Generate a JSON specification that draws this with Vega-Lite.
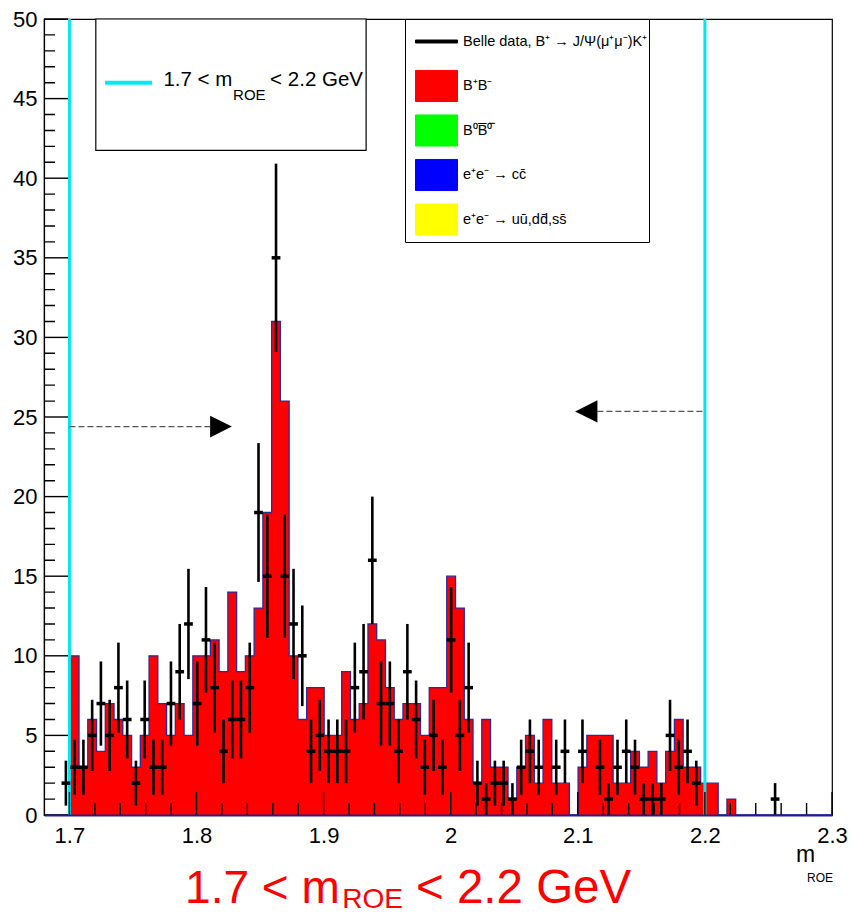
{
  "$schema": "https://vega.github.io/schema/vega-lite/v6.json",
  "width": 788,
  "height": 796,
  "autosize": {"type": "none"},
  "padding": {"left": 44, "top": 19, "right": 22, "bottom": 98},
  "background": "#ffffff",
  "config": {
    "view": {"stroke": "#000000", "strokeWidth": 1.2},
    "axis": {"grid": false, "domain": false, "title": null, "labelFont": "Liberation Sans, Arial, sans-serif", "labelFontSize": 22, "labelColor": "#000000", "tickColor": "#000000", "tickWidth": 1, "labelFlush": false, "labelOverlap": false}
  },
  "datasets": {
    "hist": [
      {"x": 1.68, "n": 0}, {"x": 1.686889, "n": 0}, {"x": 1.693778, "n": 0}, {"x": 1.700667, "n": 10},
      {"x": 1.707556, "n": 3}, {"x": 1.714444, "n": 6}, {"x": 1.721333, "n": 4}, {"x": 1.728222, "n": 7},
      {"x": 1.735111, "n": 6}, {"x": 1.742, "n": 5}, {"x": 1.748889, "n": 3}, {"x": 1.755778, "n": 5},
      {"x": 1.762667, "n": 10}, {"x": 1.769556, "n": 7}, {"x": 1.776444, "n": 5}, {"x": 1.783333, "n": 7},
      {"x": 1.790222, "n": 5}, {"x": 1.797111, "n": 10}, {"x": 1.804, "n": 10}, {"x": 1.810889, "n": 11},
      {"x": 1.817778, "n": 9}, {"x": 1.824667, "n": 14}, {"x": 1.831556, "n": 9}, {"x": 1.838444, "n": 10},
      {"x": 1.845333, "n": 13}, {"x": 1.852222, "n": 19}, {"x": 1.859111, "n": 31}, {"x": 1.866, "n": 26},
      {"x": 1.872889, "n": 10}, {"x": 1.879778, "n": 6}, {"x": 1.886667, "n": 8}, {"x": 1.893556, "n": 8},
      {"x": 1.900444, "n": 5}, {"x": 1.907333, "n": 5}, {"x": 1.914222, "n": 9}, {"x": 1.921111, "n": 6},
      {"x": 1.928, "n": 7}, {"x": 1.934889, "n": 12}, {"x": 1.941778, "n": 11}, {"x": 1.948667, "n": 8},
      {"x": 1.955556, "n": 6}, {"x": 1.962444, "n": 7}, {"x": 1.969333, "n": 7}, {"x": 1.976222, "n": 5},
      {"x": 1.983111, "n": 8}, {"x": 1.99, "n": 8}, {"x": 1.996889, "n": 15}, {"x": 2.003778, "n": 13},
      {"x": 2.010667, "n": 6}, {"x": 2.017556, "n": 2}, {"x": 2.024444, "n": 6}, {"x": 2.031333, "n": 3},
      {"x": 2.038222, "n": 3}, {"x": 2.045111, "n": 1}, {"x": 2.052, "n": 3}, {"x": 2.058889, "n": 5},
      {"x": 2.065778, "n": 2}, {"x": 2.072667, "n": 6}, {"x": 2.079556, "n": 2}, {"x": 2.086444, "n": 2},
      {"x": 2.093333, "n": 0}, {"x": 2.100222, "n": 3}, {"x": 2.107111, "n": 5}, {"x": 2.114, "n": 5},
      {"x": 2.120889, "n": 5}, {"x": 2.127778, "n": 2}, {"x": 2.134667, "n": 2}, {"x": 2.141556, "n": 4},
      {"x": 2.148444, "n": 3}, {"x": 2.155333, "n": 4}, {"x": 2.162222, "n": 2}, {"x": 2.169111, "n": 4},
      {"x": 2.176, "n": 6}, {"x": 2.182889, "n": 3}, {"x": 2.189778, "n": 3}, {"x": 2.196667, "n": 2},
      {"x": 2.203556, "n": 2}, {"x": 2.210444, "n": 0}, {"x": 2.217333, "n": 1}, {"x": 2.224222, "n": 0},
      {"x": 2.231111, "n": 0}, {"x": 2.238, "n": 0}, {"x": 2.244889, "n": 0}, {"x": 2.251778, "n": 0},
      {"x": 2.258667, "n": 0}, {"x": 2.265556, "n": 0}, {"x": 2.272444, "n": 0}, {"x": 2.279333, "n": 0},
      {"x": 2.286222, "n": 0}, {"x": 2.293111, "n": 0}, {"x": 2.3, "n": 0}
    ],
    "pts": [
      {"x0": 1.693778, "x1": 1.700667, "xc": 1.697222, "n": 2, "lo": 0.586, "hi": 3.414},
      {"x0": 1.700667, "x1": 1.707556, "xc": 1.704111, "n": 3, "lo": 1.268, "hi": 4.732},
      {"x0": 1.707556, "x1": 1.714444, "xc": 1.711, "n": 3, "lo": 1.268, "hi": 4.732},
      {"x0": 1.714444, "x1": 1.721333, "xc": 1.717889, "n": 5, "lo": 2.764, "hi": 7.236},
      {"x0": 1.721333, "x1": 1.728222, "xc": 1.724778, "n": 7, "lo": 4.354, "hi": 9.646},
      {"x0": 1.728222, "x1": 1.735111, "xc": 1.731667, "n": 5, "lo": 2.764, "hi": 7.236},
      {"x0": 1.735111, "x1": 1.742, "xc": 1.738556, "n": 8, "lo": 5.172, "hi": 10.828},
      {"x0": 1.742, "x1": 1.748889, "xc": 1.745444, "n": 6, "lo": 3.551, "hi": 8.449},
      {"x0": 1.748889, "x1": 1.755778, "xc": 1.752333, "n": 2, "lo": 0.586, "hi": 3.414},
      {"x0": 1.755778, "x1": 1.762667, "xc": 1.759222, "n": 6, "lo": 3.551, "hi": 8.449},
      {"x0": 1.762667, "x1": 1.769556, "xc": 1.766111, "n": 3, "lo": 1.268, "hi": 4.732},
      {"x0": 1.769556, "x1": 1.776444, "xc": 1.773, "n": 3, "lo": 1.268, "hi": 4.732},
      {"x0": 1.776444, "x1": 1.783333, "xc": 1.779889, "n": 7, "lo": 4.354, "hi": 9.646},
      {"x0": 1.783333, "x1": 1.790222, "xc": 1.786778, "n": 9, "lo": 6, "hi": 12},
      {"x0": 1.790222, "x1": 1.797111, "xc": 1.793667, "n": 12, "lo": 8.536, "hi": 15.464},
      {"x0": 1.797111, "x1": 1.804, "xc": 1.800556, "n": 7, "lo": 4.354, "hi": 9.646},
      {"x0": 1.804, "x1": 1.810889, "xc": 1.807444, "n": 11, "lo": 7.683, "hi": 14.317},
      {"x0": 1.810889, "x1": 1.817778, "xc": 1.814333, "n": 8, "lo": 5.172, "hi": 10.828},
      {"x0": 1.817778, "x1": 1.824667, "xc": 1.821222, "n": 4, "lo": 2, "hi": 6},
      {"x0": 1.824667, "x1": 1.831556, "xc": 1.828111, "n": 6, "lo": 3.551, "hi": 8.449},
      {"x0": 1.831556, "x1": 1.838444, "xc": 1.835, "n": 6, "lo": 3.551, "hi": 8.449},
      {"x0": 1.838444, "x1": 1.845333, "xc": 1.841889, "n": 8, "lo": 5.172, "hi": 10.828},
      {"x0": 1.845333, "x1": 1.852222, "xc": 1.848778, "n": 19, "lo": 14.641, "hi": 23.359},
      {"x0": 1.852222, "x1": 1.859111, "xc": 1.855667, "n": 15, "lo": 11.127, "hi": 18.873},
      {"x0": 1.859111, "x1": 1.866, "xc": 1.862556, "n": 35, "lo": 29.084, "hi": 40.916},
      {"x0": 1.866, "x1": 1.872889, "xc": 1.869444, "n": 15, "lo": 11.127, "hi": 18.873},
      {"x0": 1.872889, "x1": 1.879778, "xc": 1.876333, "n": 12, "lo": 8.536, "hi": 15.464},
      {"x0": 1.879778, "x1": 1.886667, "xc": 1.883222, "n": 10, "lo": 6.838, "hi": 13.162},
      {"x0": 1.886667, "x1": 1.893556, "xc": 1.890111, "n": 4, "lo": 2, "hi": 6},
      {"x0": 1.893556, "x1": 1.900444, "xc": 1.897, "n": 5, "lo": 2.764, "hi": 7.236},
      {"x0": 1.900444, "x1": 1.907333, "xc": 1.903889, "n": 4, "lo": 2, "hi": 6},
      {"x0": 1.907333, "x1": 1.914222, "xc": 1.910778, "n": 4, "lo": 2, "hi": 6},
      {"x0": 1.914222, "x1": 1.921111, "xc": 1.917667, "n": 4, "lo": 2, "hi": 6},
      {"x0": 1.921111, "x1": 1.928, "xc": 1.924556, "n": 8, "lo": 5.172, "hi": 10.828},
      {"x0": 1.928, "x1": 1.934889, "xc": 1.931444, "n": 9, "lo": 6, "hi": 12},
      {"x0": 1.934889, "x1": 1.941778, "xc": 1.938333, "n": 16, "lo": 12, "hi": 20},
      {"x0": 1.941778, "x1": 1.948667, "xc": 1.945222, "n": 7, "lo": 4.354, "hi": 9.646},
      {"x0": 1.948667, "x1": 1.955556, "xc": 1.952111, "n": 7, "lo": 4.354, "hi": 9.646},
      {"x0": 1.955556, "x1": 1.962444, "xc": 1.959, "n": 4, "lo": 2, "hi": 6},
      {"x0": 1.962444, "x1": 1.969333, "xc": 1.965889, "n": 9, "lo": 6, "hi": 12},
      {"x0": 1.969333, "x1": 1.976222, "xc": 1.972778, "n": 6, "lo": 3.551, "hi": 8.449},
      {"x0": 1.976222, "x1": 1.983111, "xc": 1.979667, "n": 3, "lo": 1.268, "hi": 4.732},
      {"x0": 1.983111, "x1": 1.99, "xc": 1.986556, "n": 5, "lo": 2.764, "hi": 7.236},
      {"x0": 1.99, "x1": 1.996889, "xc": 1.993444, "n": 3, "lo": 1.268, "hi": 4.732},
      {"x0": 1.996889, "x1": 2.003778, "xc": 2.000333, "n": 11, "lo": 7.683, "hi": 14.317},
      {"x0": 2.003778, "x1": 2.010667, "xc": 2.007222, "n": 5, "lo": 2.764, "hi": 7.236},
      {"x0": 2.010667, "x1": 2.017556, "xc": 2.014111, "n": 8, "lo": 5.172, "hi": 10.828},
      {"x0": 2.017556, "x1": 2.024444, "xc": 2.021, "n": 2, "lo": 0.586, "hi": 3.414},
      {"x0": 2.024444, "x1": 2.031333, "xc": 2.027889, "n": 1, "lo": 0, "hi": 2},
      {"x0": 2.031333, "x1": 2.038222, "xc": 2.034778, "n": 2, "lo": 0.586, "hi": 3.414},
      {"x0": 2.038222, "x1": 2.045111, "xc": 2.041667, "n": 2, "lo": 0.586, "hi": 3.414},
      {"x0": 2.045111, "x1": 2.052, "xc": 2.048556, "n": 1, "lo": 0, "hi": 2},
      {"x0": 2.052, "x1": 2.058889, "xc": 2.055444, "n": 3, "lo": 1.268, "hi": 4.732},
      {"x0": 2.058889, "x1": 2.065778, "xc": 2.062333, "n": 4, "lo": 2, "hi": 6},
      {"x0": 2.065778, "x1": 2.072667, "xc": 2.069222, "n": 3, "lo": 1.268, "hi": 4.732},
      {"x0": 2.079556, "x1": 2.086444, "xc": 2.083, "n": 3, "lo": 1.268, "hi": 4.732},
      {"x0": 2.086444, "x1": 2.093333, "xc": 2.089889, "n": 4, "lo": 2, "hi": 6},
      {"x0": 2.100222, "x1": 2.107111, "xc": 2.103667, "n": 4, "lo": 2, "hi": 6},
      {"x0": 2.114, "x1": 2.120889, "xc": 2.117444, "n": 3, "lo": 1.268, "hi": 4.732},
      {"x0": 2.120889, "x1": 2.127778, "xc": 2.124333, "n": 1, "lo": 0, "hi": 2},
      {"x0": 2.127778, "x1": 2.134667, "xc": 2.131222, "n": 3, "lo": 1.268, "hi": 4.732},
      {"x0": 2.134667, "x1": 2.141556, "xc": 2.138111, "n": 4, "lo": 2, "hi": 6},
      {"x0": 2.141556, "x1": 2.148444, "xc": 2.145, "n": 3, "lo": 1.268, "hi": 4.732},
      {"x0": 2.148444, "x1": 2.155333, "xc": 2.151889, "n": 1, "lo": 0, "hi": 2},
      {"x0": 2.155333, "x1": 2.162222, "xc": 2.158778, "n": 1, "lo": 0, "hi": 2},
      {"x0": 2.162222, "x1": 2.169111, "xc": 2.165667, "n": 1, "lo": 0, "hi": 2},
      {"x0": 2.169111, "x1": 2.176, "xc": 2.172556, "n": 5, "lo": 2.764, "hi": 7.236},
      {"x0": 2.176, "x1": 2.182889, "xc": 2.179444, "n": 3, "lo": 1.268, "hi": 4.732},
      {"x0": 2.182889, "x1": 2.189778, "xc": 2.186333, "n": 4, "lo": 2, "hi": 6},
      {"x0": 2.189778, "x1": 2.196667, "xc": 2.193222, "n": 2, "lo": 0.586, "hi": 3.414},
      {"x0": 2.251778, "x1": 2.258667, "xc": 2.255222, "n": 1, "lo": 0, "hi": 2}
    ],
    "cuts": [{"m": 1.7}, {"m": 2.2}],
    "one": [{}],
    "ymaj": [{"v": 0}, {"v": 5}, {"v": 10}, {"v": 15}, {"v": 20}, {"v": 25}, {"v": 30}, {"v": 35}, {"v": 40}, {"v": 45}, {"v": 50}],
    "ymin": [{"v": 1}, {"v": 2}, {"v": 3}, {"v": 4}, {"v": 6}, {"v": 7}, {"v": 8}, {"v": 9}, {"v": 11}, {"v": 12}, {"v": 13}, {"v": 14}, {"v": 16}, {"v": 17}, {"v": 18}, {"v": 19}, {"v": 21}, {"v": 22}, {"v": 23}, {"v": 24}, {"v": 26}, {"v": 27}, {"v": 28}, {"v": 29}, {"v": 31}, {"v": 32}, {"v": 33}, {"v": 34}, {"v": 36}, {"v": 37}, {"v": 38}, {"v": 39}, {"v": 41}, {"v": 42}, {"v": 43}, {"v": 44}, {"v": 46}, {"v": 47}, {"v": 48}, {"v": 49}],
    "xmaj": [{"v": 1.7}, {"v": 1.8}, {"v": 1.9}, {"v": 2.0}, {"v": 2.1}, {"v": 2.2}, {"v": 2.3}],
    "xmin": [{"v": 1.72}, {"v": 1.74}, {"v": 1.76}, {"v": 1.78}, {"v": 1.82}, {"v": 1.84}, {"v": 1.86}, {"v": 1.88}, {"v": 1.92}, {"v": 1.94}, {"v": 1.96}, {"v": 1.98}, {"v": 2.02}, {"v": 2.04}, {"v": 2.06}, {"v": 2.08}, {"v": 2.12}, {"v": 2.14}, {"v": 2.16}, {"v": 2.18}, {"v": 2.22}, {"v": 2.24}, {"v": 2.26}, {"v": 2.28}]
  },
  "resolve": {"axis": {"x": "independent", "y": "independent"}},
  "layer": [
    {
      "data": {"name": "hist"},
      "mark": {"type": "area", "interpolate": "step-after"},
      "encoding": {
        "x": {"field": "x", "type": "quantitative", "scale": {"domain": [1.68, 2.3], "nice": false, "zero": false},
              "axis": {"orient": "bottom", "zindex": 2, "values": [1.7, 1.8, 1.9, 2, 2.1, 2.2, 2.3], "format": "~g", "ticks": false, "labelPadding": 10, "domain": true, "domainColor": "#20208a", "domainWidth": 2}},
        "y": {"field": "n", "type": "quantitative", "scale": {"domain": [0, 50], "nice": false, "zero": true},
              "axis": {"orient": "left", "zindex": 2, "values": [0, 5, 10, 15, 20, 25, 30, 35, 40, 45, 50], "format": "d", "ticks": false, "labelPadding": 7, "domain": true, "domainColor": "#000000", "domainWidth": 1.2}},
        "color": {"datum": "B⁺B⁻", "type": "nominal",
          "scale": {"domain": ["Belle data, B⁺ → J/Ψ(μ⁺μ⁻)K⁺", "B⁺B⁻", "B⁰B̅⁰̅", "e⁺e⁻ → cc̄", "e⁺e⁻ → uū,dd̄,ss̄"], "range": ["#000000", "#ff0000", "#00ff00", "#0000ff", "#ffff00"]},
          "legend": {"orient": "none", "legendX": 361, "legendY": 0, "title": null, "padding": 1, "strokeColor": "#000000", "fillColor": "#ffffff",
            "symbolSize": 1764, "symbolOffset": 9, "labelOffset": 5, "rowPadding": 1.5,
            "labelFont": "Liberation Sans, Arial, sans-serif", "labelFontSize": 14.5, "labelColor": "#000000", "labelLimit": 400,
            "encode": {"symbols": {"update": {
              "shape": {"signal": "datum.index === 0 ? 'M-1,-0.9M1,0.9M-1,-0.07H1V0.07H-1Z' : 'M-1,-0.9M1,0.9M-1,-0.74H1V0.74H-1Z'"},
              "fill": {"signal": "scale('color', datum.value)"},
              "stroke": {"signal": "datum.index === 0 ? 'transparent' : '#3434b0'"},
              "strokeWidth": {"value": 1},
              "opacity": {"value": 1}
            }}}
          }}
      }
    },
    {
      "data": {"name": "hist"},
      "mark": {"type": "line", "interpolate": "step-after", "color": "#2a2a9c", "strokeWidth": 1.3},
      "encoding": {
        "x": {"field": "x", "type": "quantitative", "axis": null},
        "y": {"field": "n", "type": "quantitative", "axis": null}
      }
    },
    {
      "data": {"name": "cuts"},
      "mark": {"type": "rule", "color": "#00e8f0", "strokeWidth": 3},
      "encoding": {"x": {"field": "m", "type": "quantitative", "axis": null}}
    },
    {
      "data": {"name": "pts"},
      "mark": {"type": "rule", "strokeWidth": 2.6},
      "encoding": {
        "x": {"field": "xc", "type": "quantitative", "axis": null},
        "y": {"field": "lo", "type": "quantitative", "axis": null},
        "y2": {"field": "hi"},
        "color": {"datum": "Belle data, B⁺ → J/Ψ(μ⁺μ⁻)K⁺", "type": "nominal"}
      }
    },
    {
      "data": {"name": "pts"},
      "mark": {"type": "rule", "strokeWidth": 3.5},
      "encoding": {
        "x": {"field": "x0", "type": "quantitative", "axis": null},
        "x2": {"field": "x1"},
        "y": {"field": "n", "type": "quantitative", "axis": null},
        "color": {"datum": "Belle data, B⁺ → J/Ψ(μ⁺μ⁻)K⁺", "type": "nominal"}
      }
    },
    {
      "data": {"name": "one"},
      "mark": {"type": "rule", "color": "#555555", "strokeWidth": 1.3, "strokeDash": [6, 3]},
      "encoding": {"x": {"datum": 1.7, "type": "quantitative", "axis": null}, "x2": {"datum": 1.8107}, "y": {"datum": 24.4, "type": "quantitative", "axis": null}}
    },
    {
      "data": {"name": "one"},
      "mark": {"type": "point", "shape": "M0,0L-2,-1L-2,1Z", "size": 471, "filled": true, "color": "#000000", "opacity": 1, "strokeWidth": 0},
      "encoding": {"x": {"datum": 1.8278, "type": "quantitative", "axis": null}, "y": {"datum": 24.4, "type": "quantitative", "axis": null}}
    },
    {
      "data": {"name": "one"},
      "mark": {"type": "rule", "color": "#555555", "strokeWidth": 1.3, "strokeDash": [6, 3]},
      "encoding": {"x": {"datum": 2.1154, "type": "quantitative", "axis": null}, "x2": {"datum": 2.2}, "y": {"datum": 25.35, "type": "quantitative", "axis": null}}
    },
    {
      "data": {"name": "one"},
      "mark": {"type": "point", "shape": "M0,0L2,-1L2,1Z", "size": 497, "filled": true, "color": "#000000", "opacity": 1, "strokeWidth": 0},
      "encoding": {"x": {"datum": 2.0979, "type": "quantitative", "axis": null}, "y": {"datum": 25.35, "type": "quantitative", "axis": null}}
    },
    {
      "data": {"name": "one"},
      "mark": {"type": "rect", "fill": "#ffffff", "stroke": "#000000", "strokeWidth": 1.2},
      "encoding": {"x": {"datum": 1.72077, "type": "quantitative", "axis": null}, "x2": {"datum": 1.93344}, "y": {"datum": 50, "type": "quantitative", "axis": null}, "y2": {"datum": 41.75}}
    },
    {
      "data": {"name": "one"},
      "mark": {"type": "rule", "color": "#00e8f0", "strokeWidth": 4},
      "encoding": {"x": {"datum": 1.72809, "type": "quantitative", "axis": null}, "x2": {"datum": 1.76507}, "y": {"datum": 46.0, "type": "quantitative", "axis": null}}
    },
    {
      "data": {"name": "one"},
      "mark": {"type": "text", "align": "left", "baseline": "alphabetic", "fontSize": 20.5, "font": "Liberation Sans, Arial, sans-serif", "color": "#000000", "text": "1.7 < m"},
      "encoding": {"x": {"datum": 1.77396, "type": "quantitative", "axis": null}, "y": {"datum": 45.82, "type": "quantitative", "axis": null}}
    },
    {
      "data": {"name": "one"},
      "mark": {"type": "text", "align": "left", "baseline": "alphabetic", "fontSize": 15, "font": "Liberation Sans, Arial, sans-serif", "color": "#000000", "text": "ROE"},
      "encoding": {"x": {"datum": 1.8288, "type": "quantitative", "axis": null}, "y": {"datum": 44.94, "type": "quantitative", "axis": null}}
    },
    {
      "data": {"name": "one"},
      "mark": {"type": "text", "align": "left", "baseline": "alphabetic", "fontSize": 20.5, "font": "Liberation Sans, Arial, sans-serif", "color": "#000000", "text": "< 2.2 GeV"},
      "encoding": {"x": {"datum": 1.85791, "type": "quantitative", "axis": null}, "y": {"datum": 45.82, "type": "quantitative", "axis": null}}
    },
    {
      "data": {"name": "one"},
      "mark": {"type": "text", "align": "left", "baseline": "alphabetic", "fontSize": 46, "font": "Liberation Sans, Arial, sans-serif", "color": "#ff0000", "text": "1.7 < m"},
      "encoding": {"x": {"datum": 1.79103, "type": "quantitative", "axis": null}, "y": {"datum": -5.53, "type": "quantitative", "axis": null}}
    },
    {
      "data": {"name": "one"},
      "mark": {"type": "text", "align": "left", "baseline": "alphabetic", "fontSize": 28, "font": "Liberation Sans, Arial, sans-serif", "color": "#ff0000", "text": "ROE"},
      "encoding": {"x": {"datum": 1.9146, "type": "quantitative", "axis": null}, "y": {"datum": -5.84, "type": "quantitative", "axis": null}}
    },
    {
      "data": {"name": "one"},
      "mark": {"type": "text", "align": "left", "baseline": "alphabetic", "fontSize": 47.5, "font": "Liberation Sans, Arial, sans-serif", "color": "#ff0000", "text": "< 2.2 GeV"},
      "encoding": {"x": {"datum": 1.9727, "type": "quantitative", "axis": null}, "y": {"datum": -5.53, "type": "quantitative", "axis": null}}
    },
    {
      "data": {"name": "one"},
      "mark": {"type": "text", "align": "left", "baseline": "alphabetic", "fontSize": 23, "font": "Liberation Sans, Arial, sans-serif", "color": "#000000", "text": "m"},
      "encoding": {"x": {"datum": 2.27175, "type": "quantitative", "axis": null}, "y": {"datum": -2.954, "type": "quantitative", "axis": null}}
    },
    {
      "data": {"name": "one"},
      "mark": {"type": "text", "align": "left", "baseline": "alphabetic", "fontSize": 12, "font": "Liberation Sans, Arial, sans-serif", "color": "#000000", "text": "ROE"},
      "encoding": {"x": {"datum": 2.28042, "type": "quantitative", "axis": null}, "y": {"datum": -4.21, "type": "quantitative", "axis": null}}
    },
    {
      "data": {"name": "ymaj"},
      "mark": {"type": "tick", "orient": "horizontal", "size": 24, "thickness": 1.4, "color": "#000000", "opacity": 1},
      "encoding": {"x": {"datum": 1.68944, "type": "quantitative", "axis": null}, "y": {"field": "v", "type": "quantitative", "axis": null}}
    },
    {
      "data": {"name": "ymin"},
      "mark": {"type": "tick", "orient": "horizontal", "size": 11, "thickness": 1.4, "color": "#000000", "opacity": 1},
      "encoding": {"x": {"datum": 1.68433, "type": "quantitative", "axis": null}, "y": {"field": "v", "type": "quantitative", "axis": null}}
    },
    {
      "data": {"name": "xmaj"},
      "mark": {"type": "tick", "orient": "vertical", "size": 23, "thickness": 1.4, "color": "#000000", "opacity": 1},
      "encoding": {"x": {"field": "v", "type": "quantitative", "axis": null}, "y": {"datum": 0.7223, "type": "quantitative", "axis": null}}
    },
    {
      "data": {"name": "xmin"},
      "mark": {"type": "tick", "orient": "vertical", "size": 12, "thickness": 1.4, "color": "#000000", "opacity": 1},
      "encoding": {"x": {"field": "v", "type": "quantitative", "axis": null}, "y": {"datum": 0.377, "type": "quantitative", "axis": null}}
    }
  ]
}
